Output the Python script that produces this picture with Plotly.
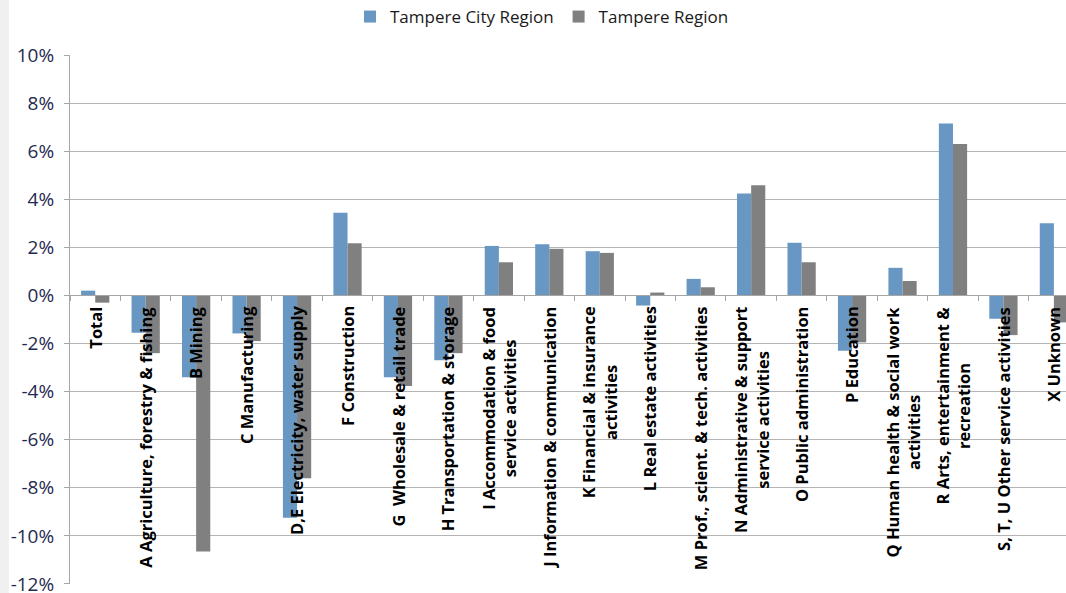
import plotly.graph_objects as go

categories = [
    "Total",
    "A Agriculture, forestry & fishing",
    "B Mining",
    "C Manufacturing",
    "D,E Electricity, water supply",
    "F Construction",
    "G  Wholesale & retail trade",
    "H Transportation & storage",
    "I Accommodation & food<br>service activities",
    "J Information & communication",
    "K Financial & insurance<br>activities",
    "L Real estate activities",
    "M Prof., scient. & tech. activities",
    "N Administrative & support<br>service activities",
    "O Public administration",
    "P Education",
    "Q Human health & social work<br>activities",
    "R Arts, entertainment &<br>recreation",
    "S, T, U Other service activities",
    "X Unknown",
]

city_region = [0.002, -0.0155, -0.034, -0.0158, -0.0925, 0.0344, -0.034, -0.0269,
               0.0206, 0.0213, 0.0184, -0.0042, 0.0069, 0.0424, 0.0219, -0.023,
               0.0115, 0.0715, -0.0097, 0.030]
tampere_region = [-0.003, -0.024, -0.1065, -0.019, -0.076, 0.0217, -0.0377, -0.024,
                  0.0138, 0.0194, 0.0177, 0.0012, 0.0034, 0.0458, 0.0138, -0.0195,
                  0.006, 0.063, -0.0165, -0.0112]

y_tickvals = [0.10, 0.08, 0.06, 0.04, 0.02, 0.0, -0.02, -0.04, -0.06, -0.08, -0.10, -0.12]
y_ticktext = ["10%", "8%", "6%", "4%", "2%", "0%", "-2%", "-4%", "-6%", "-8%", "-10%", "-12%"]

idx = list(range(len(categories)))

fig = go.Figure()
fig.add_trace(go.Bar(x=idx, y=city_region, name="Tampere City Region",
                     marker=dict(color="#6897c3", line=dict(width=0))))
fig.add_trace(go.Bar(x=idx, y=tampere_region, name="Tampere Region",
                     marker=dict(color="#808080", line=dict(width=0))))

for i, label in enumerate(categories):
    fig.add_annotation(x=i, y=0, xref="x", yref="y", text=label, textangle=-90,
                       showarrow=False, yanchor="top", xanchor="center", align="center",
                       yshift=-9, font=dict(family="Open Sans", size=16.5, color="#000000",
                                            weight="bold"))

fig.add_shape(type="rect", xref="paper", yref="paper",
              x0=-70 / 996, x1=-61 / 996, y0=-9 / 529, y1=1 + 55 / 529,
              fillcolor="#f0f0f0", line=dict(width=0), layer="below")

fig.update_layout(
    width=1066, height=593,
    margin=dict(l=70, r=0, t=55, b=9, autoexpand=False),
    paper_bgcolor="white", plot_bgcolor="white",
    barmode="group", bargap=0.44, bargroupgap=0,
    font=dict(family="Open Sans"),
    legend=dict(orientation="h", xref="container", yref="container",
                x=542 / 1066, y=1 - 17 / 593, xanchor="center", yanchor="middle",
                font=dict(size=17, color="#1a1a1a")),
    xaxis=dict(type="linear", range=[-0.5, 19.24], anchor="free", position=12.0005 / 22.0005,
               showticklabels=False, showgrid=False, zeroline=False,
               showline=True, linecolor="#a6a6a6", linewidth=1,
               tickmode="linear", tick0=0.5, dtick=1, ticks="outside",
               ticklen=5, tickcolor="#a6a6a6"),
    yaxis=dict(range=[-0.120005, 0.10], tickvals=y_tickvals, ticktext=y_ticktext,
               showgrid=True, gridcolor="#b4b4b4", gridwidth=1,
               zeroline=False, showline=True, linecolor="#a6a6a6", linewidth=1,
               ticks="outside", ticklen=5, tickcolor="#a6a6a6",
               ticklabelstandoff=6, ticklabeloverflow="allow",
               tickfont=dict(family="Open Sans", size=19, color="#1f2a50")),
)

fig.write_html("out.html", config={"displayModeBar": False},
               post_script="document.body.style.margin='0px';")
